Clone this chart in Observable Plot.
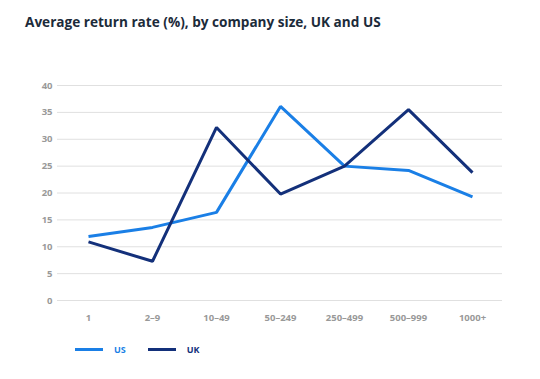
<!DOCTYPE html>
<html><head><meta charset="utf-8">
<script src="https://cdn.jsdelivr.net/npm/d3@7"></script>
<script src="https://cdn.jsdelivr.net/npm/@observablehq/plot@0.6"></script>
<style>
body{margin:0;background:#fff;font-family:"Open Sans",sans-serif;}
#wrap{position:relative;width:540px;height:379px;}
#title{position:absolute;left:25px;top:12px;font-size:13.6px;font-weight:700;color:#1c2b3a;}
#legend{position:absolute;left:75px;top:343px;font-size:9px;font-weight:700;display:flex;align-items:center;}
.sw{display:inline-block;width:28px;height:3px;margin-right:11px;}
.lab{margin-right:22px;}
</style></head>
<body><div id="wrap"><div id="chart"></div><div id="title">Average return rate (%), by company size, UK and US</div><div id="legend"></div></div>
<script>
const sizes = ["1","2–9","10–49","50–249","250–499","500–999","1000+"];
const usValues = [11.9, 13.6, 16.4, 36.1, 25.0, 24.2, 19.3];
const ukValues = [10.9, 7.3, 32.2, 19.8, 25.0, 35.5, 23.8];
const seriesNames = ["US","UK"];
const seriesColors = ["#1a7fe6","#13307a"];
const yTicks = [0,5,10,15,20,25,30,35,40];

const data = [];
sizes.forEach((s,i)=>{ data.push({size:s, series:"US", value:usValues[i]}); });
sizes.forEach((s,i)=>{ data.push({size:s, series:"UK", value:ukValues[i]}); });

const chart = Plot.plot({
  width:540, height:379,
  marginTop:85, marginBottom:79, marginLeft:57, marginRight:38,
  style:{fontFamily:"Open Sans, sans-serif", fontSize:"9.5px", fontWeight:700, color:"#999"},
  x:{type:"point", domain:sizes, padding:0.45, label:null, tickSize:0, tickPadding:14},
  y:{domain:[0,40], ticks:yTicks, label:null, tickSize:0, tickPadding:5},
  color:{domain:seriesNames, range:seriesColors},
  marks:[
    Plot.ruleY(yTicks,{stroke:"#e0e0e0", strokeWidth:1}),
    Plot.axisX({tickSize:0, tickPadding:14, fill:"#999"}),
    Plot.axisY({ticks:yTicks, tickSize:0, tickPadding:5, fill:"#999"}),
    Plot.line(data,{x:"size", y:"value", z:"series", stroke:"series", strokeWidth:3, strokeLinejoin:"miter", strokeLinecap:"butt"})
  ]
});
document.getElementById("chart").appendChild(chart);

const lg = document.getElementById("legend");
seriesNames.forEach((n,i)=>{
  const sw=document.createElement("span"); sw.className="sw"; sw.style.background=seriesColors[i]; lg.appendChild(sw);
  const t=document.createElement("span"); t.className="lab"; t.textContent=n; t.style.color=seriesColors[i]; lg.appendChild(t);
});
</script></body></html>
